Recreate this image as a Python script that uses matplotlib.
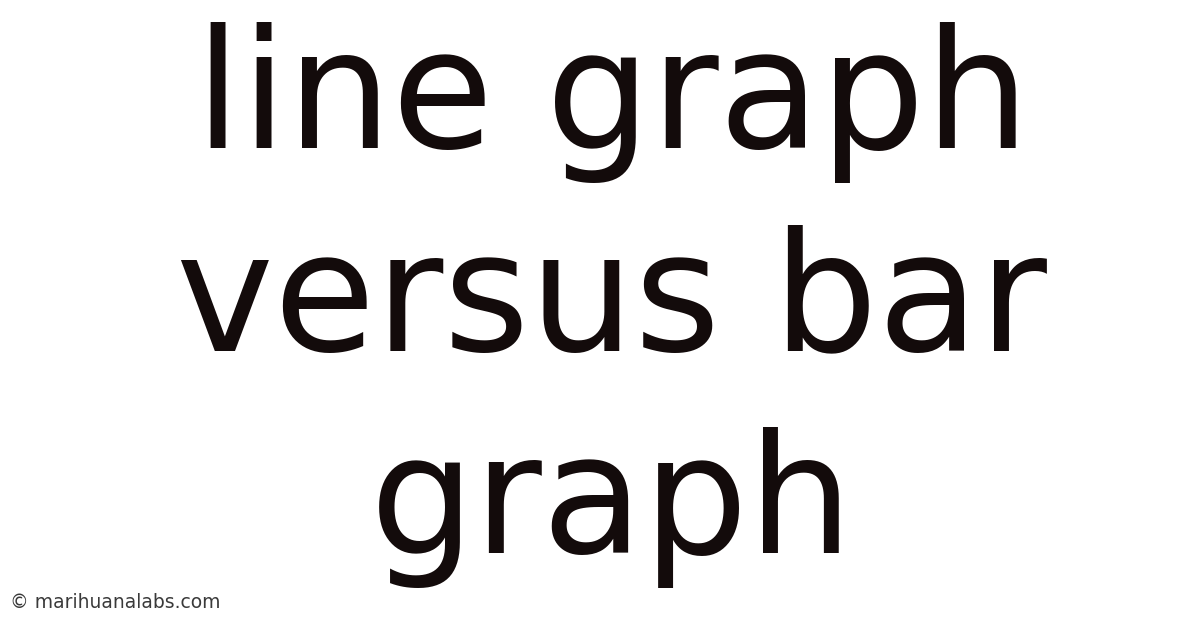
import matplotlib.pyplot as plt

# title lines and footer text
title_lines = ['line graph', 'versus bar', 'graph']
footer = '© marihuanalabs.com'

text_color = '#130b0b'

fig = plt.figure(figsize=(12, 6.28), dpi=100)
fig.patch.set_facecolor('white')

# baselines in pixels from top
baselines = [148, 350, 553]
for line, base in zip(title_lines, baselines):
    fig.text(0.51, 1 - base / 628, line, ha='center', va='baseline',
             fontsize=119, color=text_color, family='DejaVu Sans')

fig.text(10 / 1200, 1 - 603 / 628, footer, ha='left', va='center',
         fontsize=13.5, color='#3a3a3a', family='DejaVu Sans')

fig.savefig('out.png', dpi=100, facecolor='white')
